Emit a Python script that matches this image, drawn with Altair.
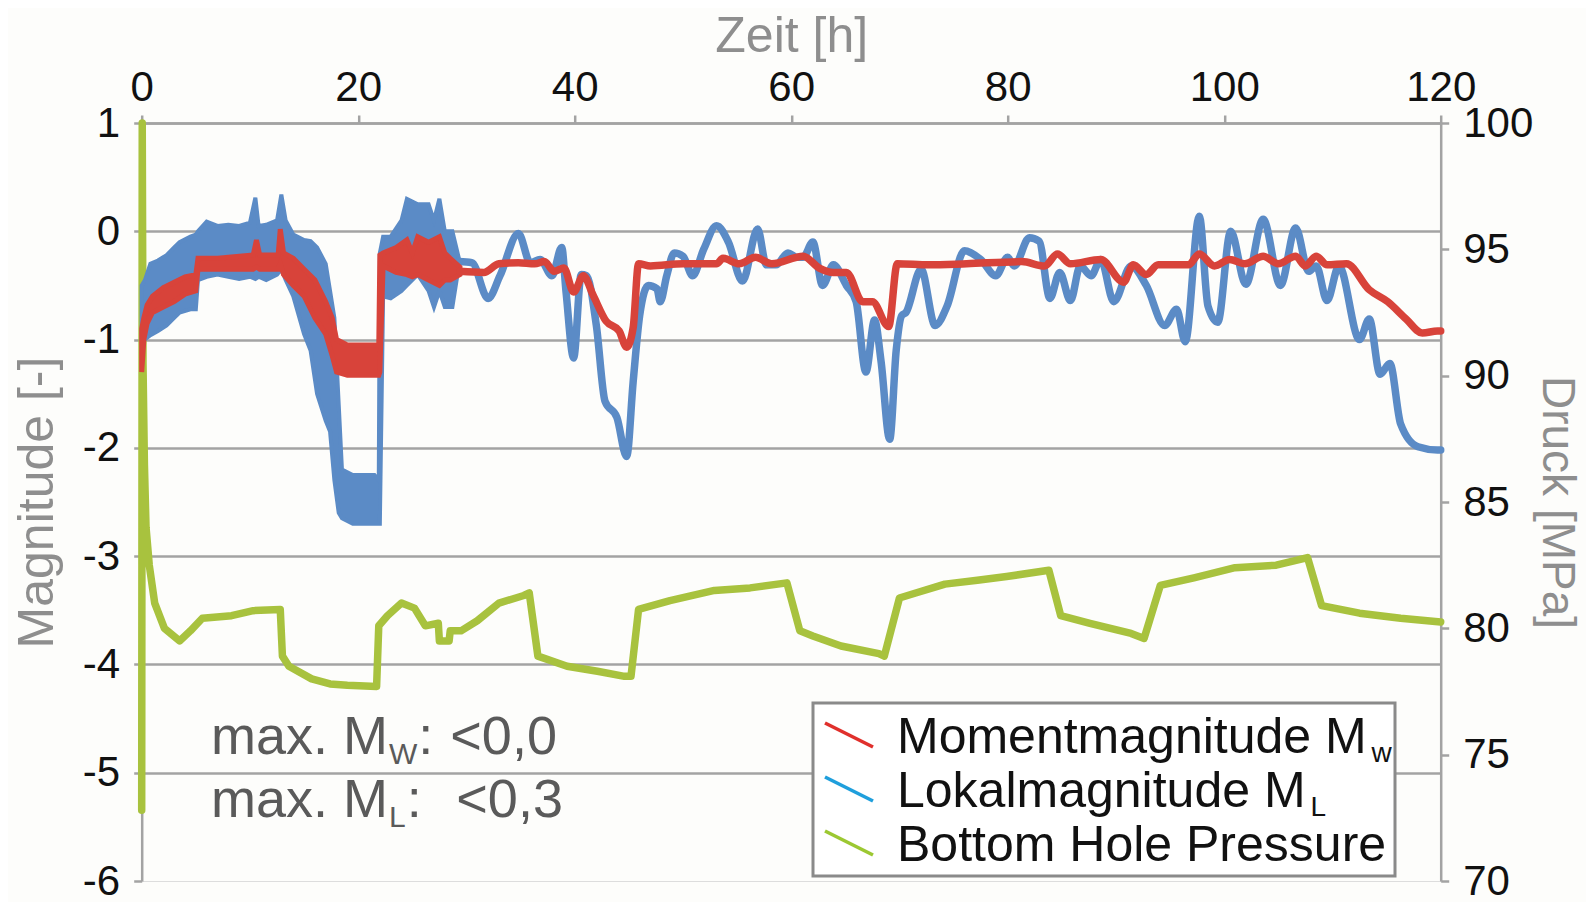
import altair as alt
import pandas as pd

FONT = "Liberation Sans"
AX_GRAY = "#a3a3a3"
TITLE_GRAY = "#8e8e8e"
TEXT_GRAY = "#5a5a5a"

# ---------------- data ----------------
x_ticks = [0, 20, 40, 60, 80, 100, 120]
mag_ticks = [-6, -5, -4, -3, -2, -1, 0, 1]
p_ticks = [70, 75, 80, 85, 90, 95, 100]

series_names = ["Momentmagnitude M", "Lokalmagnitude M", "Bottom Hole Pressure"]
series_subs = ["w", "L", ""]
series_colors = ["#d8433a", "#5b8bc6", "#a8c23e"]
legend_symbol_colors = ["#e0302c", "#1f9fdc", "#9cc832"]

# Lokalmagnitude: noisy part (envelope)
ml_band_h = [0.0, 0.3, 0.8, 1.5, 2.3, 3.0, 3.5, 4.5, 5.0, 5.2, 6.0, 7.0, 8.0, 9.0, 10.0, 10.5, 10.8,
             11.5, 12.5, 12.9, 13.3, 14.0, 15.0, 15.6, 16.2, 17.0, 17.4, 17.8, 18.2, 18.5, 19.5, 20.5,
             21.5, 21.9, 22.0, 22.3, 23.0, 24.0, 24.5, 25.5, 26.5, 27.0, 27.5, 28.0, 28.7, 29.3]
ml_band_low = [-1.0, -1.0, -0.96, -0.92, -0.87, -0.8, -0.75, -0.72, -0.72, -0.45, -0.42, -0.4, -0.42,
               -0.44, -0.42, -0.44, -0.42, -0.45, -0.4, -0.35, -0.45, -0.6, -0.95, -1.1, -1.5, -1.75,
               -1.85, -2.3, -2.6, -2.65, -2.7, -2.7, -2.7, -2.7, -2.7, -0.6, -0.62, -0.55, -0.5, -0.4,
               -0.55, -0.7, -0.55, -0.7, -0.7, -0.32]
ml_band_high = [-0.5, -0.45, -0.3, -0.27, -0.22, -0.15, -0.1, -0.05, -0.03, 0.0, 0.09, 0.05, 0.06,
                0.05, 0.08, 0.31, 0.05, 0.06, 0.1, 0.34, 0.1, -0.03, -0.08, -0.09, -0.15, -0.3, -0.55,
                -0.8, -1.6, -2.2, -2.25, -2.25, -2.25, -2.3, -0.2, -0.05, -0.05, 0.1, 0.3, 0.25, 0.25,
                0.1, 0.3, 0.0, 0.0, -0.25]

# Lokalmagnitude: smooth part
ml_h = [29.3, 30.5, 32.0, 33.1, 34.8, 35.9, 36.8, 37.9, 38.8, 39.2, 39.9, 40.6, 41.1, 42.0, 42.8,
        43.9, 44.8, 45.4, 46.0, 46.8, 47.6, 47.9, 48.5, 49.2, 50.0, 50.9, 51.9, 53.1, 54.2, 55.5,
        56.9, 57.7, 58.6, 59.7, 60.5, 61.1, 62.0, 62.9, 63.9, 65.1, 66.0, 66.9, 67.7, 68.3, 69.1,
        69.7, 70.2, 70.6, 72.0, 73.3, 74.4, 76.0, 77.5, 78.9, 80.0, 80.6, 82.0, 82.9, 83.9, 84.8,
        85.8, 86.7, 87.7, 88.6, 89.8, 91.4, 92.8, 94.5, 95.6, 96.4, 97.7, 98.5, 99.4, 100.6, 102.0,
        103.6, 105.2, 106.6, 107.8, 108.5, 109.5, 110.6, 112.5, 113.4, 114.4, 115.3, 116.3, 117.9,
        119.7, 120.0]
ml_m = [-0.28, -0.29, -0.62, -0.41, -0.02, -0.29, -0.26, -0.41, -0.15, -0.56, -1.17, -0.4, -0.41,
        -0.87, -1.57, -1.72, -2.08, -1.39, -0.78, -0.5, -0.53, -0.65, -0.41, -0.2, -0.23, -0.41,
        -0.17, 0.05, -0.1, -0.46, 0.02, -0.31, -0.31, -0.2, -0.24, -0.24, -0.1, -0.5, -0.31, -0.5,
        -0.65, -1.3, -0.82, -1.2, -1.92, -1.1, -0.78, -0.75, -0.35, -0.87, -0.69, -0.18, -0.26,
        -0.41, -0.24, -0.32, -0.06, -0.09, -0.62, -0.38, -0.64, -0.32, -0.41, -0.26, -0.65, -0.32,
        -0.5, -0.87, -0.72, -1.02, 0.14, -0.69, -0.84, 0.0, -0.49, 0.11, -0.5, 0.03, -0.37, -0.32,
        -0.64, -0.32, -1.0, -0.81, -1.32, -1.22, -1.78, -1.99, -2.02, -2.02]

# Momentmagnitude: noisy part (envelope)
mw_band_h = [0.0, 0.2, 0.5, 1.0, 2.0, 3.0, 4.0, 5.0, 5.2, 7.0, 10.3, 10.6, 10.9, 12.6, 12.8, 13.1,
             14.0, 15.0, 16.0, 17.0, 17.6, 18.0, 19.0, 21.9, 22.0, 22.3, 23.5, 24.5, 25.0, 25.5, 26.5,
             27.5, 28.0, 28.5, 29.4]
mw_band_low = [-1.3, -1.0, -0.85, -0.75, -0.7, -0.65, -0.58, -0.55, -0.35, -0.35, -0.35, -0.33,
               -0.35, -0.35, -0.3, -0.4, -0.5, -0.6, -0.8, -0.95, -1.15, -1.3, -1.33, -1.33, -1.3,
               -0.32, -0.38, -0.4, -0.42, -0.4, -0.45, -0.5, -0.45, -0.45, -0.4]
mw_band_high = [-0.9, -0.8, -0.68, -0.6, -0.52, -0.47, -0.42, -0.4, -0.25, -0.25, -0.22, -0.08,
                -0.22, -0.22, 0.02, -0.2, -0.25, -0.35, -0.45, -0.65, -0.8, -1.0, -1.05, -1.05,
                -0.22, -0.2, -0.15, -0.08, -0.2, -0.05, -0.1, -0.05, -0.2, -0.25, -0.33]

# Momentmagnitude: smooth part
mw_h = [29.4, 31.6, 33.0, 34.8, 36.3, 37.2, 38.1, 39.0, 39.9, 40.8, 41.7, 42.9, 44.1, 44.8, 45.4,
        45.9, 47.0, 50.0, 53.1, 53.7, 55.2, 56.7, 58.2, 61.1, 62.6, 63.9, 65.1, 66.6, 67.5, 69.0,
        69.8, 72.7, 76.2, 81.3, 83.4, 84.6, 85.8, 88.6, 90.7, 91.6, 92.8, 93.9, 96.7, 97.7, 99.1,
        100.5, 101.9, 103.6, 105.0, 106.6, 107.5, 108.5, 109.5, 111.3, 113.4, 115.1, 116.8, 118.3,
        119.7, 120.0]
mw_m = [-0.37, -0.38, -0.3, -0.29, -0.3, -0.28, -0.37, -0.34, -0.56, -0.41, -0.59, -0.83, -0.92,
        -1.07, -0.89, -0.3, -0.32, -0.3, -0.3, -0.25, -0.3, -0.24, -0.3, -0.23, -0.34, -0.38, -0.38,
        -0.65, -0.65, -0.88, -0.3, -0.31, -0.3, -0.28, -0.32, -0.21, -0.3, -0.26, -0.47, -0.31,
        -0.4, -0.31, -0.31, -0.21, -0.32, -0.26, -0.3, -0.23, -0.3, -0.23, -0.32, -0.23, -0.31,
        -0.3, -0.54, -0.65, -0.81, -0.94, -0.92, -0.92]

# Bottom hole pressure [MPa]
p_h = [0.0, 0.05, 0.12, 0.25, 0.4, 0.7, 1.2, 2.1, 3.5, 4.5, 5.6, 8.3, 10.3, 12.8, 13.0, 13.6, 15.7,
       17.4, 19.0, 21.7, 21.9, 22.7, 24.0, 25.2, 26.2, 27.4, 27.5, 28.4, 28.5, 29.5, 31.0, 33.0,
       35.3, 35.8, 36.6, 39.3, 42.1, 44.6, 45.2, 45.9, 48.8, 52.9, 56.2, 59.6, 60.8, 62.0, 64.6,
       68.1, 68.6, 70.0, 71.5, 74.2, 77.2, 79.9, 83.8, 84.9, 87.6, 91.4, 92.6, 94.1, 97.2, 101.0,
       104.8, 107.7, 109.0, 112.5, 116.3, 120.0]
p_mpa = [72.8, 100.0, 90.5, 86.5, 84.0, 82.5, 81.0, 80.0, 79.5, 79.9, 80.4, 80.5, 80.7, 80.75, 78.9,
         78.5, 78.0, 77.8, 77.75, 77.7, 80.1, 80.5, 81.0, 80.8, 80.1, 80.2, 79.5, 79.5, 79.9, 79.9,
         80.3, 81.0, 81.3, 81.4, 78.9, 78.5, 78.3, 78.1, 78.1, 80.75, 81.1, 81.5, 81.6, 81.8, 79.9,
         79.7, 79.3, 79.0, 78.9, 81.2, 81.4, 81.75, 81.9, 82.05, 82.3, 80.5, 80.2, 79.8, 79.6, 81.7,
         82.0, 82.4, 82.5, 82.8, 80.9, 80.6, 80.4, 80.25]

ann_main = ["max. M", "max. M"]
ann_sub = ["W", "L"]
ann_colon = [":", ":"]
ann_val = ["<0,0", "<0,3"]

# ---------------- layout constants ----------------
W, H = 1299, 758
OX, OY = 141.7, 123.0          # plot origin on the page

ARIAL = {'m': 833, 'a': 556, 'x': 500, '.': 278, ' ': 278, 'M': 833, 'W': 944, 'L': 556, 'w': 722,
         ':': 278, '<': 584, '0': 556, ',': 278, '3': 556, 'o': 556, 'e': 556, 'n': 556, 't': 278,
         'g': 556, 'i': 222, 'u': 556, 'd': 556, 'k': 500, 'l': 222, 'B': 667, 'H': 722, 'P': 667,
         'r': 333, 's': 500}


def tw(s, fs):
    return sum(ARIAL.get(c, 556) for c in s) / 1000.0 * fs


# ---------------- frames ----------------
ml_band_df = pd.DataFrame({"h": ml_band_h, "lo": ml_band_low, "hi": ml_band_high})
mw_band_df = pd.DataFrame({"h": mw_band_h, "lo": mw_band_low, "hi": mw_band_high})
ml_df = pd.DataFrame({"h": ml_h, "m": ml_m, "series": series_names[1]})
mw_df = pd.DataFrame({"h": mw_h, "m": mw_m, "series": series_names[0]})
p_df = pd.DataFrame({"h": p_h, "p": p_mpa, "i": list(range(len(p_h))), "series": series_names[2]})

# ---------------- scales / axes ----------------
TICK_FS = 42
xscale = alt.Scale(domain=[0, 120], nice=False, zero=False)
xaxis = alt.Axis(orient="top", values=x_ticks, title="Zeit [h]", grid=False,
                 labelFontSize=TICK_FS, labelColor="#111111", labelPadding=6, labelFlush=False,
                 labelOverlap=False, labelFont=FONT,
                 titleFontSize=50, titleColor=TITLE_GRAY, titleFontWeight="normal", titlePadding=5,
                 titleFont=FONT,
                 tickSize=8, tickColor=AX_GRAY, tickWidth=2.5, domainColor=AX_GRAY, domainWidth=2.5)
X = alt.X("h:Q", scale=xscale, axis=xaxis)

ymscale = alt.Scale(domain=[-6, 1], nice=False, zero=False)
ymaxis = alt.Axis(orient="left", values=mag_ticks, title="Magnitude [-]",
                  labelExpr="datum.value < 0 ? '-' + abs(datum.value) : '' + datum.value",
                  grid=True, gridColor=AX_GRAY, gridWidth=2.5,
                  gridOpacity={"condition": {"test": "datum.value === -6", "value": 0}, "value": 1},
                  labelFontSize=TICK_FS, labelColor="#111111", labelPadding=14, labelFlush=False,
                  labelOverlap=False, labelFont=FONT,
                  titleFontSize=50, titleColor=TITLE_GRAY, titleFontWeight="normal", titlePadding=20,
                  titleFont=FONT,
                  tickSize=8, tickColor=AX_GRAY, tickWidth=2.5, domainColor=AX_GRAY, domainWidth=2.5)

ypscale = alt.Scale(domain=[70, 100], nice=False, zero=False)
ypaxis = alt.Axis(orient="right", values=p_ticks, title="Druck [MPa]", grid=False,
                  labelFontSize=TICK_FS, labelColor="#111111", labelPadding=14, labelFlush=False,
                  labelOverlap=False, labelFont=FONT,
                  titleFontSize=46, titleColor=TITLE_GRAY, titleFontWeight="normal", titlePadding=0,
                  titleFont=FONT,
                  tickSize=8, tickColor=AX_GRAY, tickWidth=2.5, domainColor=AX_GRAY, domainWidth=2.5)

color = alt.Color("series:N", scale=alt.Scale(domain=series_names, range=series_colors), legend=None)

LW = 7.5

# ---------------- data layers ----------------
ml_band = alt.Chart(ml_band_df).mark_area(color=series_colors[1], stroke=series_colors[1],
                                           strokeWidth=4, opacity=1).encode(
    x=X, y=alt.Y("lo:Q", scale=ymscale, axis=ymaxis), y2="hi:Q")
mw_band = alt.Chart(mw_band_df).mark_area(color=series_colors[0], stroke=series_colors[0],
                                           strokeWidth=5, opacity=1).encode(
    x=X, y=alt.Y("lo:Q", scale=ymscale, axis=ymaxis), y2="hi:Q")
ml_line = alt.Chart(ml_df).mark_line(strokeWidth=LW, strokeJoin="round", strokeCap="round",
                                     interpolate="monotone").encode(
    x=X, y=alt.Y("m:Q", scale=ymscale, axis=ymaxis), color=color)
mw_line = alt.Chart(mw_df).mark_line(strokeWidth=LW, strokeJoin="round", strokeCap="round",
                                     interpolate="monotone").encode(
    x=X, y=alt.Y("m:Q", scale=ymscale, axis=ymaxis), color=color)
p_line = alt.Chart(p_df).mark_line(strokeWidth=LW, strokeJoin="round", strokeCap="round").encode(
    x=X, y=alt.Y("p:Q", scale=ypscale, axis=ypaxis), color=color, order="i:Q")

# ---------------- annotation "max. M" ----------------
ANN_FS, SUB_FS = 54, 30
ann_h = 6.4
ann_m = [-4.83, -5.41]
val_dx = tw("max. M", ANN_FS) + tw("W", SUB_FS) + tw(": ", ANN_FS) + 4
ann_layers = []
for k in range(2):
    d = pd.DataFrame({"h": [ann_h], "m": [ann_m[k]]})
    base = alt.Chart(d).encode(x=X, y=alt.Y("m:Q", scale=ymscale, axis=ymaxis))
    w_main = tw(ann_main[k], ANN_FS)
    w_sub = tw(ann_sub[k], SUB_FS)
    common = dict(align="left", baseline="alphabetic", font=FONT, color=TEXT_GRAY)
    ann_layers.append(base.mark_text(fontSize=ANN_FS, text=ann_main[k], **common))
    ann_layers.append(base.mark_text(fontSize=SUB_FS, dx=w_main + 1, dy=10, text=ann_sub[k],
                                     **common))
    ann_layers.append(base.mark_text(fontSize=ANN_FS, dx=w_main + w_sub + 2, text=ann_colon[k],
                                     **common))
    ann_layers.append(base.mark_text(fontSize=ANN_FS, dx=val_dx + (6 if k == 1 else 0),
                                     text=ann_val[k], **common))

# ---------------- legend (drawn with marks, on top of the grid) ----------------
LEG_FS, LEG_SUB_FS = 50, 28
box_x1, box_x2 = 813 - OX, 1395 - OX
box_y1, box_y2 = 703 - OY, 876 - OY
row_c = [735 - OY, 789 - OY, 843 - OY]
lab_x = 897 - OX
one = pd.DataFrame({"k": [0]})
leg_layers = [alt.Chart(one).mark_rect(fill="#ffffff", stroke="#8a8a8a", strokeWidth=3).encode(
    x=alt.value(box_x1), x2=alt.value(box_x2), y=alt.value(box_y1), y2=alt.value(box_y2))]
for i, name in enumerate(series_names):
    c = row_c[i]
    leg_layers.append(alt.Chart(one).mark_rule(color=legend_symbol_colors[i], strokeWidth=3.5).encode(
        x=alt.value(825 - OX), x2=alt.value(873 - OX), y=alt.value(c - 12), y2=alt.value(c + 12)))
    leg_layers.append(alt.Chart(one).mark_text(align="left", baseline="alphabetic", fontSize=LEG_FS,
                                              font=FONT, color="#111111", text=name).encode(
        x=alt.value(lab_x), y=alt.value(c + 18)))
    if series_subs[i]:
        leg_layers.append(alt.Chart(one).mark_text(align="left", baseline="alphabetic",
                                                  fontSize=LEG_SUB_FS, font=FONT, color="#111111",
                                                  text=series_subs[i]).encode(
            x=alt.value(lab_x + tw(name, LEG_FS) + 5), y=alt.value(c + 27)))

mag = alt.layer(ml_band, ml_line, mw_band, mw_line, *ann_layers, *leg_layers)

chart = alt.layer(p_line, mag).resolve_scale(y="independent").properties(
    width=W, height=H,
    autosize=alt.AutoSizeParams(type="none"),
    padding={"left": OX - 8, "top": OY - 8, "right": 1578 - (OX - 8) - W, "bottom": 894 - (OY - 8) - H},
    background="#fdfdfb",
).configure_view(stroke=None).configure(font=FONT)

chart.save("out.html", embed_options={"renderer": "svg", "actions": False})
